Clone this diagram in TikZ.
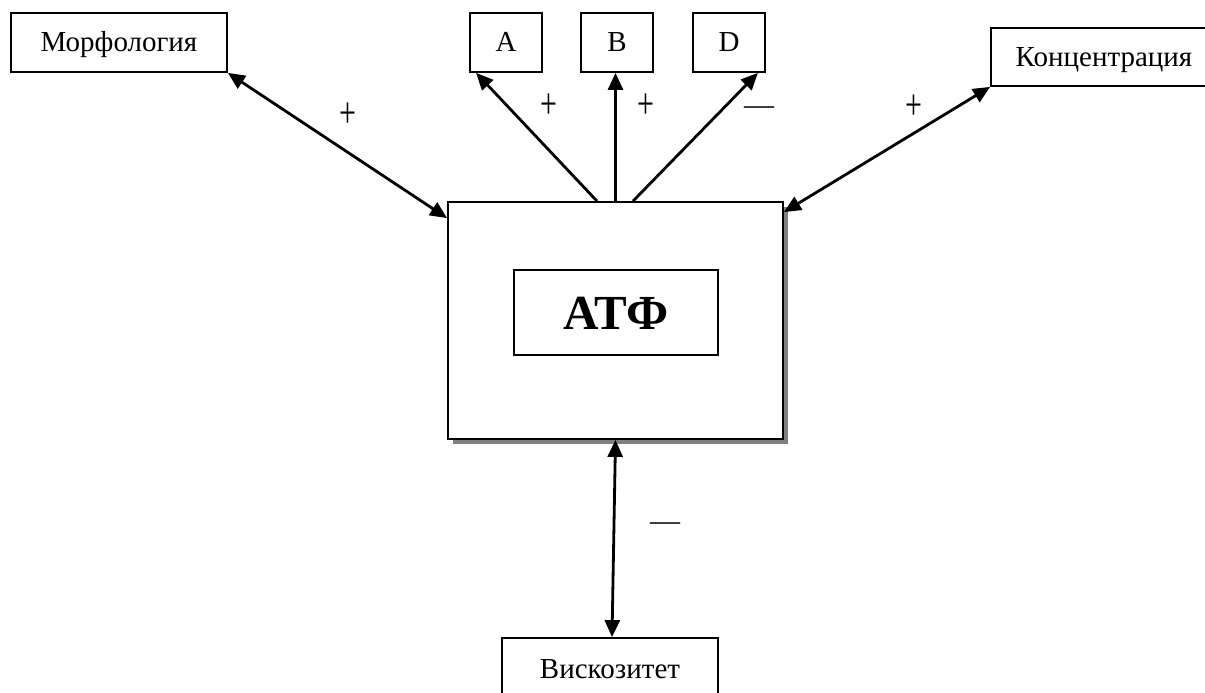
\documentclass[tikz,border=0pt]{standalone}
\usepackage{fontspec}
\setmainfont{Liberation Serif}
\usetikzlibrary{arrows.meta,calc}
\tikzset{
  box/.style={draw, line width=1.8pt, fill=white, inner sep=0pt, text height=19pt, text depth=0pt,
    font=\fontsize{29}{35}\selectfont},
  conn/.style={line width=2.8pt, -{Triangle[length=17pt,width=15pt]}},
  dconn/.style={line width=2.8pt, {Triangle[length=17pt,width=15pt]}-{Triangle[length=17pt,width=15pt]}},
  sign/.style={inner sep=0pt, font=\fontsize{30}{36}\selectfont},
}
\newcommand{\tallplus}{\scalebox{1}[1.45]{+}}
\begin{document}
\begin{tikzpicture}[x=1pt,y=-1pt]
\useasboundingbox (0,0) rectangle (1205,693);
\clip (0,0) rectangle (1205,693);
\fill[white] (0,0) rectangle (1205,693);
% shadow of main box
\fill[black!50] (453,207) rectangle (788,444);
\node[box, minimum width=335pt, minimum height=237pt] (main) at (615.5,320.5) {};
\node[box, minimum width=204pt, minimum height=85pt, text height=33pt,
  font=\fontsize{49}{58}\selectfont\bfseries] (atf) at (616,312.5) {АТФ};
\node[box, minimum width=216pt, minimum height=59pt] (morph) at (119,42.5) {Морфология};
\node[box, minimum width=72pt, minimum height=59pt] (A) at (506,42.5) {A};
\node[box, minimum width=72pt, minimum height=59pt] (B) at (617,42.5) {B};
\node[box, minimum width=72pt, minimum height=59pt] (D) at (729,42.5) {D};
\node[box, minimum width=226pt, minimum height=58pt] (conc) at (1104,57) {Концентрация};
\node[box, minimum width=216pt, minimum height=62pt] (visc) at (610,669) {Вискозитет};
% connectors
\draw[dconn] (morph.south east) -- ($(main.north west)+(0,17)$);
\draw[conn] ($(main.north)+(-18.5,0)$) -- ($(A.south west)+(7,0)$);
\draw[conn] (main.north) -- (main.north |- B.south);
\draw[conn] ($(main.north)+(17.5,0)$) -- ($(D.south east)+(-8,0)$);
\draw[dconn] ($(main.north east)+(0,11)$) -- (conc.south west);
\draw[dconn] (main.south) -- ($(visc.north)+(2,0)$);
% signs
\node[sign] (s1) at (348,115) {\tallplus};
\node[sign] (s2) at (549,106) {\tallplus};
\node[sign] (s3) at (646,106) {\tallplus};
\node[sign] (s4) at (759,111) {—};
\node[sign] (s5) at (914,107) {\tallplus};
\node[sign] (s6) at (665,527) {—};
\end{tikzpicture}
\end{document}
